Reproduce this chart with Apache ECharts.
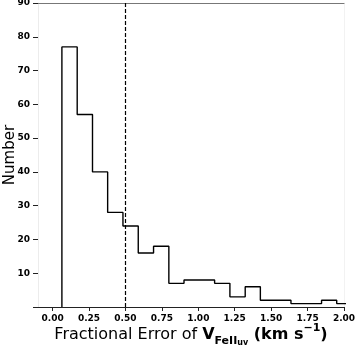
<!DOCTYPE html>
<html>
<head>
<meta charset="utf-8">
<script src="https://cdn.jsdelivr.net/npm/echarts@6/dist/echarts.min.js"></script>
<style>
  html, body { margin: 0; padding: 0; background: #fff; }
  #chart { width: 357px; height: 346px; }
</style>
</head>
<body>
<div id="chart"></div>
<script>
// histogram bin edges (left edges + final right edge) and counts
const binEdges = [0.064, 0.169, 0.274, 0.378, 0.483, 0.588, 0.693, 0.798, 0.902, 1.007,
  1.112, 1.217, 1.322, 1.426, 1.531, 1.636, 1.741, 1.846, 1.950, 2.055];
const binCounts = [77, 57, 40, 28, 24, 16, 18, 7, 8, 8, 7, 3, 6, 2, 2, 1, 1, 2, 1];
const xTicks = [0, 0.25, 0.5, 0.75, 1.0, 1.25, 1.5, 1.75, 2.0];
const xTickLabels = ["0.00", "0.25", "0.50", "0.75", "1.00", "1.25", "1.50", "1.75", "2.00"];
const cutLine = 0.5;

// outline of a step histogram
const stepData = [[binEdges[0], 0]];
binCounts.forEach((c, i) => stepData.push([binEdges[i], c]));
stepData.push([binEdges[binEdges.length - 1], binCounts[binCounts.length - 1]]);

const chart = echarts.init(document.getElementById("chart"), null, { renderer: "canvas" });

const tickFont = { fontFamily: "DejaVu Sans", fontWeight: "bold", fontSize: 9, color: "#000" };

chart.setOption({
  animation: false,
  backgroundColor: "#fff",
  grid: { left: 38, right: 13, top: 3, bottom: 39, containLabel: false, outerBoundsMode: "none" },
  xAxis: [
    {
      type: "value",
      min: -0.1,
      max: 2.0,
      position: "bottom",
      splitLine: { show: false },
      axisLine: { show: true, onZero: false, lineStyle: { color: "#222", width: 1 } },
      axisTick: { show: true, length: 4, customValues: xTicks, lineStyle: { color: "#222" } },
      axisLabel: {
        ...tickFont,
        margin: 7,
        customValues: xTicks,
        formatter: (v) => xTickLabels[xTicks.indexOf(v)] ?? v.toFixed(2),
      },
      name: "{n|Fractional Error of }{b|V}{s|FeII}{ss|uv}{b| (km s}{sup|−1}{b|)}",
      nameLocation: "middle",
      nameGap: 16,
      nameMoveOverlap: false,
      nameTextStyle: {
        rich: {
          n: { fontFamily: "DejaVu Sans", fontSize: 16, lineHeight: 24, color: "#000" },
          b: { fontFamily: "DejaVu Sans", fontSize: 16, fontWeight: "bold", lineHeight: 24, color: "#000" },
          s: { fontFamily: "DejaVu Sans", fontSize: 11, fontWeight: "bold", lineHeight: 12, verticalAlign: "bottom", color: "#000" },
          ss: { fontFamily: "DejaVu Sans", fontSize: 8, fontWeight: "bold", lineHeight: 8, verticalAlign: "bottom", color: "#000" },
          sup: { fontFamily: "DejaVu Sans", fontSize: 11, fontWeight: "bold", lineHeight: 12, verticalAlign: "top", color: "#000" },
        },
      },
    },
    {
      type: "value",
      min: -0.1,
      max: 2.0,
      position: "top",
      axisLine: { show: true, onZero: false, lineStyle: { color: "#777", width: 1 } },
      axisTick: { show: false },
      axisLabel: { show: false },
      splitLine: { show: false },
    },
  ],
  yAxis: [
    {
      type: "value",
      min: 0,
      max: 90,
      interval: 10,
      splitLine: { show: false },
      axisLine: { show: true, onZero: false, lineStyle: { color: "#ececec", width: 1 } },
      axisTick: { show: true, length: 5, lineStyle: { color: "#222" } },
      axisLabel: { ...tickFont, margin: 8, formatter: (v) => (v === 0 ? "" : String(v)) },
      name: "Number",
      nameLocation: "middle",
      nameGap: 20,
      nameMoveOverlap: false,
      nameTextStyle: { fontFamily: "DejaVu Sans", fontSize: 15, color: "#000" },
    },
    {
      type: "value",
      min: 0,
      max: 90,
      position: "right",
      axisLine: { show: true, onZero: false, lineStyle: { color: "#f2f2f2", width: 1 } },
      axisTick: { show: false },
      axisLabel: { show: false },
      splitLine: { show: false },
    },
  ],
  series: [
    {
      type: "line",
      step: "end",
      data: stepData,
      showSymbol: false,
      symbol: "none",
      clip: true,
      lineStyle: { color: "#000", width: 1.4 },
      markLine: {
        silent: true,
        symbol: "none",
        label: { show: false },
        lineStyle: { color: "#000", type: [4, 2], width: 1.2 },
        data: [{ xAxis: cutLine }],
      },
    },
  ],
});
</script>
</body>
</html>
